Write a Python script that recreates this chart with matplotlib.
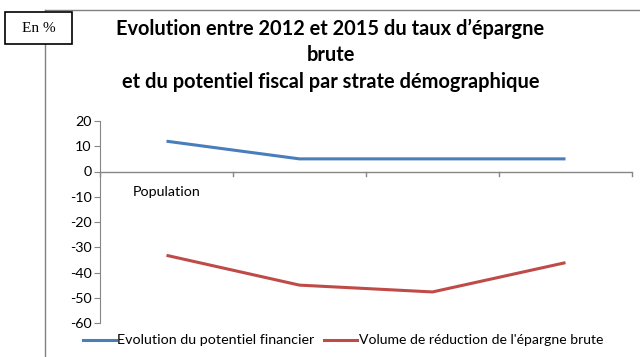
import matplotlib
matplotlib.use("Agg")
import matplotlib.pyplot as plt
from matplotlib.lines import Line2D
from matplotlib.patches import Rectangle

categories = ["Population", "", "", ""]
potentiel = [12, 5, 5, 5]
epargne = [-33.2, -45, -47.7, -36.1]
yticks = [20, 10, 0, -10, -20, -30, -40, -50, -60]
title = "Evolution entre 2012 et 2015 du taux d\u2019épargne\nbrute\net du potentiel fiscal par strate démographique"
series_names = ["Evolution du potentiel financier", "Volume de réduction de l'épargne brute"]

plt.rcParams['font.family'] = ['Lato', 'DejaVu Sans']
W, H = 640, 357
fig = plt.figure(figsize=(W/100, H/100), dpi=100)

# outer frame lines
fig.add_artist(Line2D([45/W, 45/W], [0, 1-10/H], color='#808080', lw=1))
fig.add_artist(Line2D([45/W, 1], [1-10/H, 1-10/H], color='#808080', lw=1))
fig.add_artist(Rectangle((5/W, 1-44/H), 67/W, 32/H, transform=fig.transFigure,
                         facecolor='white', edgecolor='black', lw=1.2, zorder=5))
fig.text(38.5/W, 1-28/H, "En %", family='Liberation Serif', fontsize=11,
         ha='center', va='center', zorder=6)

fig.text(330.5/W, 1-55/H, title, ha='center', va='center', fontsize=14.4,
         fontweight='bold', linespacing=1.4)

ax = fig.add_axes([100/W, 1-323/H, 532/W, 202/H])
x = [i + 0.5 for i in range(len(categories))]
ax.plot(x, potentiel, color='#4A7EBB', lw=2.2, solid_capstyle='butt')
ax.plot(x, epargne, color='#BE4B48', lw=2.2, solid_capstyle='butt')
ax.set_xlim(0, len(categories))
ax.set_ylim(-60, 20)
ax.set_yticks(yticks)
ax.set_yticklabels([str(v) for v in yticks], fontsize=10.3)
for s in ['top', 'right', 'bottom']:
    ax.spines[s].set_visible(False)
ax.spines['left'].set_color('#868686')
ax.axhline(0, color='#868686', lw=1, zorder=1)
ax.tick_params(axis='y', color='#868686', length=4, pad=2)
ax.set_xticks([])
for b in range(len(categories) + 1):
    ax.plot([b, b], [0, -1.8], color='#868686', lw=1, clip_on=False)
for xi, lab in zip(x, categories):
    ax.text(xi, -8, lab, ha='center', va='center', fontsize=10.3)

# legend
ly = 1 - 340/H
fig.add_artist(Line2D([83/W, 116/W], [ly, ly], color='#4A7EBB', lw=2.2))
fig.text(117/W, ly, series_names[0], va='center', ha='left', fontsize=10.3)
fig.add_artist(Line2D([324/W, 357/W], [ly, ly], color='#BE4B48', lw=2.2))
fig.text(359/W, ly, series_names[1], va='center', ha='left', fontsize=10.1)

fig.savefig("out.png", dpi=100)
